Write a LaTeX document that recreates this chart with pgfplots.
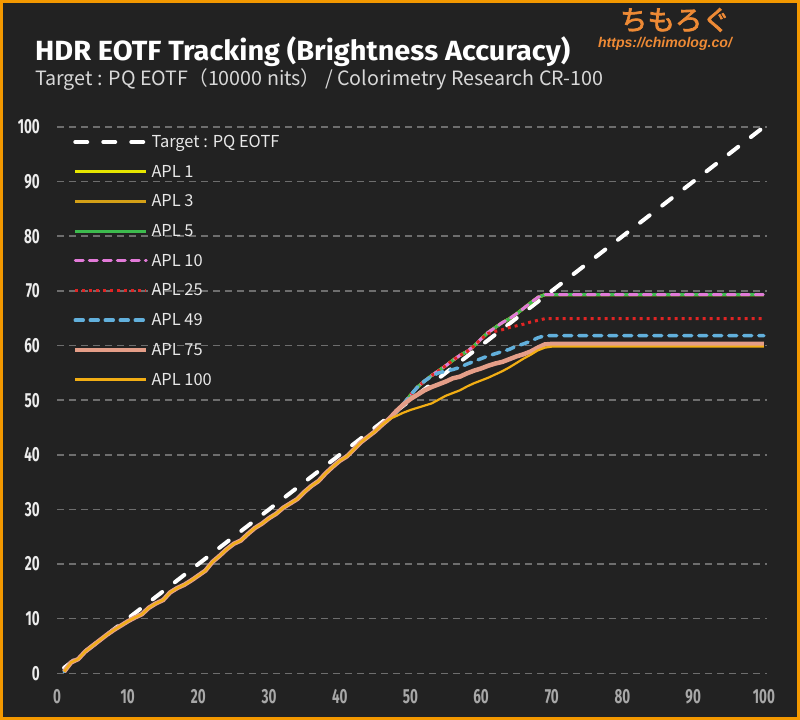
\documentclass[border=0pt]{standalone}
\usepackage{pgfplots}
\pgfplotsset{compat=1.18}
\usepackage{pgfplotstable}
\usepackage{fontspec}
\setmainfont{Noto Sans CJK JP}
\newfontfamily\jpfont{Noto Sans CJK JP}
\newfontfamily\jpbold{Noto Sans CJK JP}[FakeBold=2.5]
\newfontfamily\condfont{Fira Sans}[FakeStretch=0.66]
\newfontfamily\urlfont{Liberation Sans}

\definecolor{bg}{HTML}{222222}
\definecolor{frame}{HTML}{F39800}
\definecolor{logo}{HTML}{EE8A35}
\definecolor{gridc}{HTML}{6E6E6E}
\definecolor{ylab}{HTML}{ECECEC}
\definecolor{xlab}{HTML}{A8A8A8}
\definecolor{subc}{HTML}{D8D8D8}
\definecolor{legc}{HTML}{E8E8E8}
\definecolor{c1}{HTML}{E6E600}
\definecolor{c3}{HTML}{D4A017}
\definecolor{c5}{HTML}{3DBB4E}
\definecolor{c10}{HTML}{E27AD8}
\definecolor{c25}{HTML}{E02424}
\definecolor{c49}{HTML}{62B0DC}
\definecolor{c75}{HTML}{E59E88}
\definecolor{c100}{HTML}{F2AE14}

\pgfplotstableread{
x   top  r25  b49  s75  o100
1   0.3  0.3  0.3  0.3  0.3
2   2.0  2.0  2.0  2.0  2.0
3   2.6  2.6  2.6  2.6  2.6
4   4.0  4.0  4.0  4.0  4.0
5   5.0  5.0  5.0  5.0  5.0
6   6.0  6.0  6.0  6.0  6.0
7   7.0  7.0  7.0  7.0  7.0
8   7.9  7.9  7.9  7.9  7.9
9   8.7  8.7  8.7  8.7  8.7
10  9.5  9.5  9.5  9.5  9.5
11  10.2 10.2 10.2 10.2 10.2
12  10.8 10.8 10.8 10.8 10.8
13  12.0 12.0 12.0 12.0 12.0
14  12.8 12.8 12.8 12.8 12.8
15  13.4 13.4 13.4 13.4 13.4
16  14.8 14.8 14.8 14.8 14.8
17  15.6 15.6 15.6 15.6 15.6
18  16.2 16.2 16.2 16.2 16.2
19  17.0 17.0 17.0 17.0 17.0
20  17.9 17.9 17.9 17.9 17.9
21  18.8 18.8 18.8 18.8 18.8
22  20.4 20.4 20.4 20.4 20.4
23  21.5 21.5 21.5 21.5 21.5
24  22.7 22.7 22.7 22.7 22.7
25  23.7 23.7 23.7 23.7 23.7
26  24.3 24.3 24.3 24.3 24.3
27  25.5 25.5 25.5 25.5 25.5
28  26.6 26.6 26.6 26.6 26.6
29  27.4 27.4 27.4 27.4 27.4
30  28.4 28.4 28.4 28.4 28.4
31  29.2 29.2 29.2 29.2 29.2
32  30.3 30.3 30.3 30.3 30.3
33  31.1 31.1 31.1 31.1 31.1
34  31.9 31.9 31.9 31.9 31.9
35  33.2 33.2 33.2 33.2 33.2
36  34.3 34.3 34.3 34.3 34.3
37  35.2 35.2 35.2 35.2 35.2
38  36.6 36.6 36.6 36.6 36.6
39  37.8 37.8 37.8 37.8 37.8
40  38.9 38.9 38.9 38.9 38.9
41  39.7 39.7 39.7 39.7 39.7
42  41.0 41.0 41.0 41.0 41.0
43  42.3 42.3 42.3 42.3 42.3
44  43.3 43.3 43.3 43.3 43.3
45  44.3 44.3 44.3 44.3 44.3
46  45.5 45.5 45.5 45.5 45.5
47  46.6 46.6 46.6 46.6 46.5
48  47.8 47.8 47.8 48.0 47.1
49  49.3 49.3 49.3 49.2 47.7
50  50.9 50.9 50.9 50.2 48.2
51  52.4 52.4 52.4 51.0 48.6
52  53.5 53.5 53.5 51.8 49.0
53  54.5 54.5 54.4 52.4 49.4
54  55.4 55.4 55.0 52.9 50.1
55  56.3 56.3 55.3 53.4 50.8
56  57.3 57.3 55.6 54.0 51.3
57  58.2 58.2 56.0 54.3 51.8
58  58.9 58.9 56.6 54.9 52.5
59  59.9 59.9 57.1 55.4 53.1
60  61.2 61.2 57.6 55.8 53.6
61  62.4 62.2 58.1 56.3 54.1
62  63.3 62.6 58.5 56.7 54.7
63  64.2 62.9 58.9 57.0 55.3
64  64.9 63.3 59.3 57.5 56.0
65  65.8 63.6 59.9 58.0 56.8
66  66.8 63.9 60.3 58.4 57.6
67  67.8 64.3 60.8 58.9 58.3
68  68.8 64.6 61.4 59.6 59.1
69  69.3 64.9 61.8 60.2 59.6
70  69.3 64.9 61.8 60.3 59.8
100 69.3 64.9 61.8 60.3 59.8
}\data

\pgfplotstableread{
x y
1 1
100 100
}\target

\begin{document}
\begin{tikzpicture}[x=1bp,y=1bp]
\fill[frame] (0,0) rectangle (800,720);
\fill[bg] (3,3) rectangle (797,717);
\node[anchor=west, inner sep=0pt, text=white] at (35,668)
  {\resizebox*{535bp}{30bp}{\condfont\bfseries HDR EOTF Tracking (Brightness Accuracy)}};
\node[anchor=west, inner sep=0pt, text=subc] at (35,640)
  {\resizebox{568bp}{!}{\jpfont Target : PQ EOTF（10000 nits） / Colorimetry Research CR-100}};
\node[inner sep=0pt, text=logo] at (675,700)
  {\resizebox{110bp}{!}{\jpbold ちもろぐ}};
\node[inner sep=0pt, text=logo] at (665,676)
  {\resizebox{134bp}{!}{\urlfont\bfseries\itshape https://chimolog.co/}};

\begin{axis}[
  at={(57bp,46.7bp)}, anchor=south west,
  scale only axis, width=709.7bp, height=546.3bp,
  xmin=0, xmax=100.4, ymin=0, ymax=100,
  xtick={0,10,...,100}, ytick={0,10,...,100},
  axis line style={draw=none}, major tick length=0pt,
  ymajorgrids,
  major grid style={gridc, line width=1.5bp, dash pattern=on 7bp off 5bp},
  /pgf/number format/assume math mode=true,
  yticklabel style={font=\condfont\bfseries\fontsize{20.5}{20.5}\selectfont, text=ylab, anchor=east, inner sep=0pt, xshift=-17bp},
  xticklabel style={font=\condfont\bfseries\fontsize{20.5}{20.5}\selectfont, text=xlab, anchor=north, inner sep=0pt, yshift=-16bp},
  clip=false,
  no marks,
  legend image code/.code={\draw[#1] (0bp,0bp) -- (71bp,0bp);},
  legend cell align=left,
  legend style={at={(0,1)}, anchor=north west, xshift=16bp, yshift=-7.5bp,
    draw=none, fill=none, inner sep=0pt, outer sep=0pt,
    row sep=14.7bp, column sep=3bp,
    font=\jpfont\fontsize{16.5}{16.5}\selectfont, text=legc,
    nodes={text height=13bp, text depth=2bp, inner sep=0pt}},
]
\addplot[white, line width=4bp, dash pattern=on 12bp off 16bp, line cap=round] table[x=x,y=y]{\target};
\addlegendentry{Target : PQ EOTF}
\addplot[c1, line width=3bp] table[x=x,y=top]{\data};
\addlegendentry{APL 1}
\addplot[c3, line width=3bp] table[x=x,y=top]{\data};
\addlegendentry{APL 3}
\addplot[c5, line width=3bp] table[x=x,y=top]{\data};
\addlegendentry{APL 5}
\addplot[c10, line width=3bp, dash pattern=on 8bp off 6bp, line cap=round] table[x=x,y=top]{\data};
\addlegendentry{APL 10}
\addplot[c25, line width=3bp, dash pattern=on 3bp off 4bp] table[x=x,y=r25]{\data};
\addlegendentry{APL 25}
\addplot[c49, line width=3.5bp, dash pattern=on 8bp off 7bp, line cap=round] table[x=x,y=b49]{\data};
\addlegendentry{APL 49}
\addplot[c75, line width=4.5bp] table[x=x,y=s75]{\data};
\addlegendentry{APL 75}
\addplot[c100, line width=2.2bp] table[x=x,y=o100]{\data};
\addlegendentry{APL 100}
\end{axis}
\end{tikzpicture}
\end{document}
